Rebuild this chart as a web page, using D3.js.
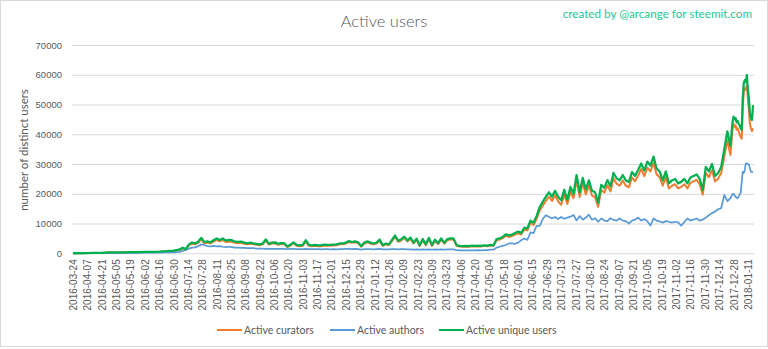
<!DOCTYPE html>
<html>
<head>
<meta charset="utf-8">
<script src="https://cdn.jsdelivr.net/npm/d3@7/dist/d3.min.js"></script>
<style>
  html, body { margin: 0; padding: 0; background: #fff; }
  svg { display: block; font-family: Lato, "Open Sans", "DejaVu Sans", sans-serif; }
</style>
</head>
<body>
<svg id="chart" width="768" height="349"></svg>
<script>
// Sampling dates (weekly at first, then every 3 days, then daily)
const dates = [
  "2016-03-24","2016-03-31","2016-04-07","2016-04-14","2016-04-21","2016-04-28","2016-05-05","2016-05-12","2016-05-19","2016-05-26","2016-06-02","2016-06-09","2016-06-16","2016-06-23",
  "2016-06-30","2016-07-03","2016-07-06","2016-07-09","2016-07-12","2016-07-15","2016-07-18","2016-07-21","2016-07-24","2016-07-27","2016-07-30",
  "2016-08-02","2016-08-05","2016-08-08","2016-08-11","2016-08-14","2016-08-17","2016-08-20","2016-08-23","2016-08-26","2016-08-29",
  "2016-09-01","2016-09-04","2016-09-07","2016-09-10","2016-09-13","2016-09-16","2016-09-19","2016-09-22","2016-09-25","2016-09-28",
  "2016-10-01","2016-10-04","2016-10-07","2016-10-10","2016-10-13","2016-10-16","2016-10-19","2016-10-22","2016-10-25","2016-10-28","2016-10-31",
  "2016-11-03","2016-11-06","2016-11-09","2016-11-12","2016-11-15","2016-11-18","2016-11-21","2016-11-24","2016-11-27","2016-11-30",
  "2016-12-03","2016-12-06","2016-12-09","2016-12-12","2016-12-15","2016-12-18","2016-12-21","2016-12-24","2016-12-27","2016-12-30",
  "2017-01-02","2017-01-05","2017-01-08","2017-01-11","2017-01-14","2017-01-17","2017-01-20","2017-01-23","2017-01-26","2017-01-29",
  "2017-02-01","2017-02-04","2017-02-07","2017-02-10","2017-02-13","2017-02-16","2017-02-19","2017-02-22","2017-02-25","2017-02-28",
  "2017-03-03","2017-03-06","2017-03-09","2017-03-12","2017-03-15","2017-03-18","2017-03-21","2017-03-24","2017-03-27","2017-03-30",
  "2017-04-02","2017-04-05","2017-04-08","2017-04-11","2017-04-14","2017-04-17","2017-04-20","2017-04-23","2017-04-26","2017-04-29",
  "2017-05-02","2017-05-05","2017-05-08","2017-05-11","2017-05-14","2017-05-17","2017-05-20","2017-05-23","2017-05-26","2017-05-29",
  "2017-06-01","2017-06-04","2017-06-07","2017-06-10","2017-06-13","2017-06-16","2017-06-19","2017-06-22","2017-06-25","2017-06-28",
  "2017-07-01","2017-07-04","2017-07-07","2017-07-10","2017-07-13","2017-07-16","2017-07-19","2017-07-22","2017-07-25","2017-07-28","2017-07-31",
  "2017-08-03","2017-08-06","2017-08-09","2017-08-12","2017-08-15","2017-08-18","2017-08-21","2017-08-24","2017-08-27","2017-08-30",
  "2017-09-02","2017-09-05","2017-09-08","2017-09-11","2017-09-14","2017-09-17","2017-09-20","2017-09-23","2017-09-26","2017-09-29",
  "2017-10-02","2017-10-05","2017-10-08","2017-10-11","2017-10-14","2017-10-17","2017-10-20","2017-10-23","2017-10-26","2017-10-29",
  "2017-11-01","2017-11-04","2017-11-07","2017-11-10","2017-11-13","2017-11-16","2017-11-19","2017-11-22","2017-11-25","2017-11-28",
  "2017-12-01","2017-12-04","2017-12-07","2017-12-10","2017-12-13","2017-12-16","2017-12-19","2017-12-22",
  "2017-12-25","2017-12-26","2017-12-27","2017-12-28","2017-12-29","2017-12-30","2017-12-31",
  "2018-01-01","2018-01-02","2018-01-03","2018-01-04","2018-01-05","2018-01-06","2018-01-07","2018-01-08","2018-01-09",
  "2018-01-10","2018-01-11","2018-01-12","2018-01-13","2018-01-14","2018-01-15","2018-01-16"
];

const activeCurators = [
  40,50,70,90,120,250,270,300,320,350,400,420,470,580,
  700,900,1100,1600,1200,2700,3200,3000,3500,4700,3400,
  3600,3300,3900,4500,4000,4500,3800,4000,3900,3500,
  3400,3500,3200,3000,3200,3000,2900,2700,3000,4300,
  2900,3300,3300,2900,3100,3100,2100,2600,3400,2500,2400,
  2500,4000,2500,2400,2500,2400,2400,2600,2500,2500,
  2600,2700,3000,3000,3300,3800,3500,3700,3400,2200,
  3300,3700,3300,3000,3300,4200,2500,3000,2700,4100,
  5600,3900,4300,5200,4000,4900,3300,4500,2400,4400,
  2700,4800,2500,4200,3100,4600,3200,4400,4600,4600,
  2500,2300,2200,2300,2200,2400,2300,2400,2300,2500,
  2400,2600,2500,4400,4600,5100,5900,5500,5800,6300,
  6700,6300,7900,7700,10200,9500,11600,14400,16000,17600,
  19000,17600,19500,17500,16300,19700,16600,20700,18500,24600,18900,
  23600,19800,22800,19400,18900,15600,21300,20400,22900,20800,
  25200,23400,22700,24500,22700,22200,25500,24200,26100,28300,
  25900,28800,27500,30400,26500,25600,22700,25600,21800,22700,
  23200,21800,22300,23200,21800,23700,24200,24700,23200,19700,
  27000,25600,27900,24100,25100,27000,32500,38000,
  33000,37500,41500,43500,42500,43000,41500,
  42000,41000,40000,39000,38500,49000,54000,55500,55000,
  56500,52000,48000,43500,42000,41000,42000
];

const activeAuthors = [
  0,10,20,30,50,80,100,120,150,170,200,220,250,300,
  350,400,500,800,1100,1600,1900,2000,2400,3000,2800,
  2400,2300,2500,2300,2400,2200,2100,2200,2100,1900,
  1900,1800,1800,1700,1700,1700,1600,1600,1600,1500,
  1500,1500,1500,1500,1500,1500,1400,1500,1500,1400,1400,
  1400,1500,1400,1400,1400,1400,1300,1400,1400,1300,
  1400,1300,1400,1400,1500,1500,1400,1500,1400,1200,
  1400,1400,1400,1300,1400,1500,1300,1300,1300,1400,
  1400,1300,1400,1400,1300,1300,1200,1300,1200,1300,
  1200,1300,1200,1300,1200,1300,1200,1300,1300,1300,
  1100,1000,1000,1000,1000,1000,1000,1100,1000,1100,
  1100,1200,1200,1900,2200,2500,2800,3300,3300,3200,
  3600,4400,5000,4500,7000,6800,9200,9200,11500,12800,
  12300,11700,12200,11500,12200,11600,12000,12300,12900,11000,12500,
  11300,12000,13000,11300,11800,10600,11700,11000,10800,11800,
  11200,11000,11700,11000,10800,10000,11000,11300,12000,11000,
  11500,10800,9300,11700,11000,10700,10300,10800,10600,10300,
  10600,10400,9300,10500,11700,11000,11300,11700,11000,11300,
  12000,12800,13500,14000,14800,15200,19600,17500,
  18500,19200,19800,20000,19500,19000,18700,
  18500,19000,19800,20300,24000,27400,27000,28000,30200,
  30200,30000,29800,28500,27500,27300,27300
];

const activeUniqueUsers = [
  60,70,90,110,150,300,320,350,380,420,480,500,560,700,
  900,1100,1300,1900,1400,3000,3600,3300,3900,5200,3800,
  4000,3700,4400,5000,4500,5000,4300,4500,4400,3900,
  3800,3900,3600,3350,3600,3350,3200,3000,3300,4700,
  3200,3600,3700,3200,3400,3400,2300,2900,3700,2800,2700,
  2800,4400,2800,2700,2800,2700,2700,2900,2800,2800,
  2900,3000,3300,3300,3600,4100,3800,4000,3700,2400,
  3600,4000,3600,3300,3600,4600,2800,3300,3000,4500,
  6000,4200,4700,5600,4300,5300,3600,4900,2700,4800,
  3000,5200,2800,4600,3400,5000,3500,4800,5000,5000,
  2800,2500,2400,2500,2400,2600,2500,2600,2500,2700,
  2600,2800,2700,4800,5000,5500,6400,6000,6300,6800,
  7300,6800,8600,8400,11000,10300,12500,15500,17300,19000,
  20500,19000,21000,19000,17800,21300,18000,22300,20000,26300,20500,
  25300,21500,24500,21000,20500,17000,23000,22000,24600,22500,
  27000,25200,24500,26300,24500,24000,27300,26000,28000,30200,
  27800,30800,29500,32500,28500,27500,24500,27500,23500,24500,
  25000,23500,24000,25000,23500,25500,26000,26500,25000,21300,
  29000,27500,30000,26000,27000,29000,35000,41000,
  36000,40000,44000,45900,45000,45500,44000,
  44500,43500,43000,42000,41500,52000,57100,58200,57500,
  59900,55000,52000,47000,45500,44800,49800
];

// Category labels shown along the bottom axis (every 14 days)
const xTickLabels = [
  "2016-03-24","2016-04-07","2016-04-21","2016-05-05","2016-05-19","2016-06-02","2016-06-16","2016-06-30",
  "2016-07-14","2016-07-28","2016-08-11","2016-08-25","2016-09-08","2016-09-22","2016-10-06","2016-10-20",
  "2016-11-03","2016-11-17","2016-12-01","2016-12-15","2016-12-29","2017-01-12","2017-01-26","2017-02-09",
  "2017-02-23","2017-03-09","2017-03-23","2017-04-06","2017-04-20","2017-05-04","2017-05-18","2017-06-01",
  "2017-06-15","2017-06-29","2017-07-13","2017-07-27","2017-08-10","2017-08-24","2017-09-07","2017-09-21",
  "2017-10-05","2017-10-19","2017-11-02","2017-11-16","2017-11-30","2017-12-14","2017-12-28","2018-01-11"
];
const yTickValues = [0, 10000, 20000, 30000, 40000, 50000, 60000, 70000];

const seriesNames = ["Active curators", "Active authors", "Active unique users"];
const seriesColors = ["#ED7D31", "#5B9BD5", "#00B050"];
const seriesWidths = [2, 1.75, 2.25];

const parse = d3.utcParse("%Y-%m-%d");
const svg = d3.select("#chart");
const textColor = "#595959";

// outer chart frame
svg.append("rect")
  .attr("x", 0.5).attr("y", 0.5).attr("width", 767).attr("height", 346)
  .attr("fill", "#fff").attr("stroke", "#d9d9d9");

const x = d3.scaleUtc()
  .domain([parse("2016-03-24"), parse("2018-01-16")])
  .range([73, 753]);
const y = d3.scaleLinear().domain([0, 70000]).range([253.3, 45]);

// horizontal gridlines + value labels
const yAxis = svg.append("g")
  .attr("transform", "translate(72,0)")
  .call(d3.axisLeft(y).tickValues(yTickValues).tickSize(-682).tickPadding(10).tickFormat(d3.format("d")));
yAxis.select(".domain").remove();
yAxis.selectAll(".tick line").attr("stroke", "#d9d9d9").attr("stroke-width", 1);
yAxis.selectAll(".tick text")
  .attr("fill", textColor).style("font-size", "9.5px");

// date axis with rotated labels
const xAxis = svg.append("g")
  .attr("transform", "translate(0,253.3)")
  .call(d3.axisBottom(x).tickValues(xTickLabels.map(parse)).tickSize(0)
    .tickFormat(d3.utcFormat("%Y-%m-%d")));
xAxis.select(".domain").remove();
xAxis.selectAll(".tick text")
  .attr("fill", textColor)
  .style("font-size", "10px")
  .attr("text-anchor", "end")
  .attr("transform", "rotate(-90)")
  .attr("x", -6).attr("y", 0).attr("dy", "0.35em");

// lines
const seriesValues = [activeCurators, activeAuthors, activeUniqueUsers];
const line = d3.line()
  .x((d, i) => x(parse(dates[i])))
  .y(d => y(d));
seriesValues.forEach((vals, k) => {
  svg.append("path")
    .datum(vals)
    .attr("fill", "none")
    .attr("stroke", seriesColors[k])
    .attr("stroke-width", seriesWidths[k])
    .attr("stroke-linejoin", "round")
    .attr("d", line);
});

// title and credit
svg.append("text")
  .attr("x", 384).attr("y", 27)
  .attr("text-anchor", "middle")
  .attr("fill", textColor)
  .style("font-size", "16.5px").style("font-weight", 300)
  .text("Active users");

svg.append("text")
  .attr("x", 752).attr("y", 18)
  .attr("text-anchor", "end")
  .attr("fill", "#20c997")
  .style("font-size", "11.7px")
  .text("created by @arcange for steemit.com");

// y axis title
svg.append("text")
  .attr("transform", "translate(28,150) rotate(-90)")
  .attr("text-anchor", "middle")
  .attr("fill", textColor)
  .style("font-size", "11.5px")
  .text("number of distinct users");

// legend
const legendX = [217, 330, 439];
const legend = svg.append("g");
seriesNames.forEach((name, k) => {
  legend.append("line")
    .attr("x1", legendX[k]).attr("x2", legendX[k] + 25)
    .attr("y1", 330).attr("y2", 330)
    .attr("stroke", seriesColors[k]).attr("stroke-width", 2);
  legend.append("text")
    .attr("x", legendX[k] + 27).attr("y", 330).attr("dy", "0.35em")
    .attr("fill", textColor)
    .style("font-size", "10.5px")
    .text(name);
});
</script>
</body>
</html>
